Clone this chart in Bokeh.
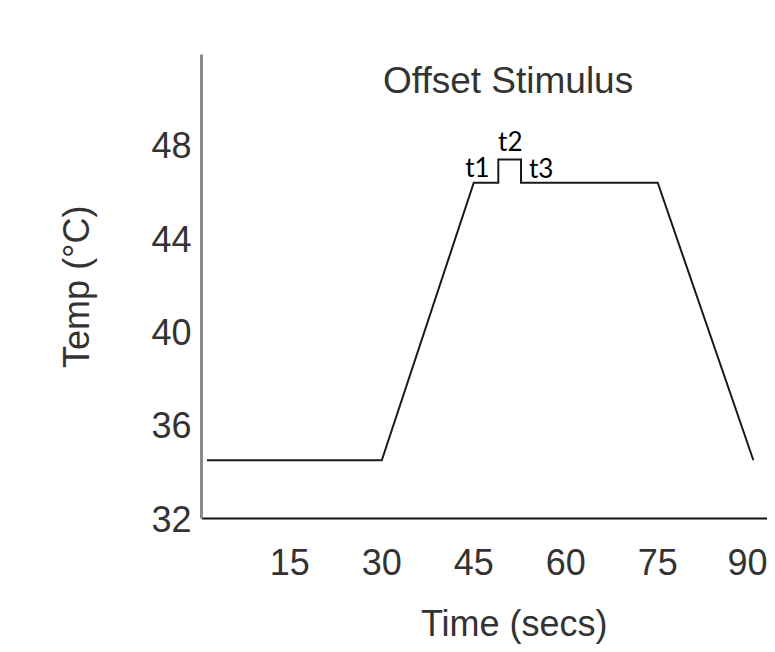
from bokeh.plotting import figure
from bokeh.models import FixedTicker, Range1d, Label, Title
from bokeh.embed import file_html
from bokeh.resources import INLINE

# ---- data ----
time_s = [1.5, 30, 45, 49, 49, 52.7, 52.7, 75, 90.6]
temp_c = [34.5, 34.5, 46.4, 46.4, 47.4, 47.4, 46.4, 46.4, 34.5]

x_ticks = [15, 30, 45, 60, 75, 90]
y_ticks = [32, 36, 40, 44, 48]
y_min, y_max = 32, 51.9

phase_names = ["t1", "t2", "t3"]
phase_x = [45.6, 50.95, 56.0]
phase_y = [47.09, 48.21, 47.05]

title_text = "Offset Stimulus"
x_label = "Time (secs)"
y_label = "Temp (\u00b0C)"

FONT = "Liberation Sans"
TXT = "#333333"

# frame runs to the bottom of the canvas; the x axis sits at y = 32
p = figure(width=767, height=644, output_backend="svg", toolbar_location=None,
           x_range=Range1d(0.6, 92.9), y_range=Range1d(26.6, y_max),
           min_border_left=201, min_border_right=0, min_border_top=54,
           min_border_bottom=0)
p.outline_line_color = None
p.xgrid.visible = False
p.ygrid.visible = False
p.background_fill_color = "white"
p.border_fill_color = "white"

p.line(time_s, temp_c, line_color="#1a1a1a", line_width=2, line_join="miter")

# axes
p.xaxis.ticker = FixedTicker(ticks=x_ticks)
p.yaxis.ticker = FixedTicker(ticks=y_ticks)
p.xaxis.fixed_location = y_min
p.yaxis.bounds = (y_min, y_max)
for ax in (p.xaxis[0], p.yaxis[0]):
    ax.major_tick_line_color = None
    ax.minor_tick_line_color = None
    ax.major_tick_out = 0
    ax.major_tick_in = 0
    ax.major_label_text_font = FONT
    ax.major_label_text_font_size = "36px"
    ax.major_label_text_color = TXT
p.xaxis.axis_line_color = "#111111"
p.xaxis.axis_line_width = 2
p.yaxis.axis_line_color = "#8a8a8a"
p.yaxis.axis_line_width = 3
p.xaxis.major_label_standoff = 30
p.yaxis.major_label_standoff = 10

# y axis label, centred on the 32-52 part of the axis
p.add_layout(Title(text=y_label, align="right", offset=151,
                   vertical_align="bottom", standoff=104,
                   text_font=FONT, text_font_size="36px",
                   text_font_style="normal", text_color=TXT), "left")

# x axis label, placed like the original (off-centre, below tick labels)
p.add_layout(Label(x=51.6, y=27.52, text=x_label, text_align="center",
                   text_baseline="middle", text_font=FONT,
                   text_font_size="36px", text_color=TXT))

# title inside plot area
p.add_layout(Label(x=50.6, y=50.78, text=title_text, text_align="center",
                   text_baseline="middle", text_font=FONT,
                   text_font_size="37px", text_color=TXT))

# phase labels
for name, xx, yy in zip(phase_names, phase_x, phase_y):
    p.add_layout(Label(x=xx, y=yy, text=name, text_align="center",
                       text_baseline="middle", text_font="Lato",
                       text_font_size="26px", text_color="#000000"))

open("out.html", "w").write(file_html(p, INLINE))
